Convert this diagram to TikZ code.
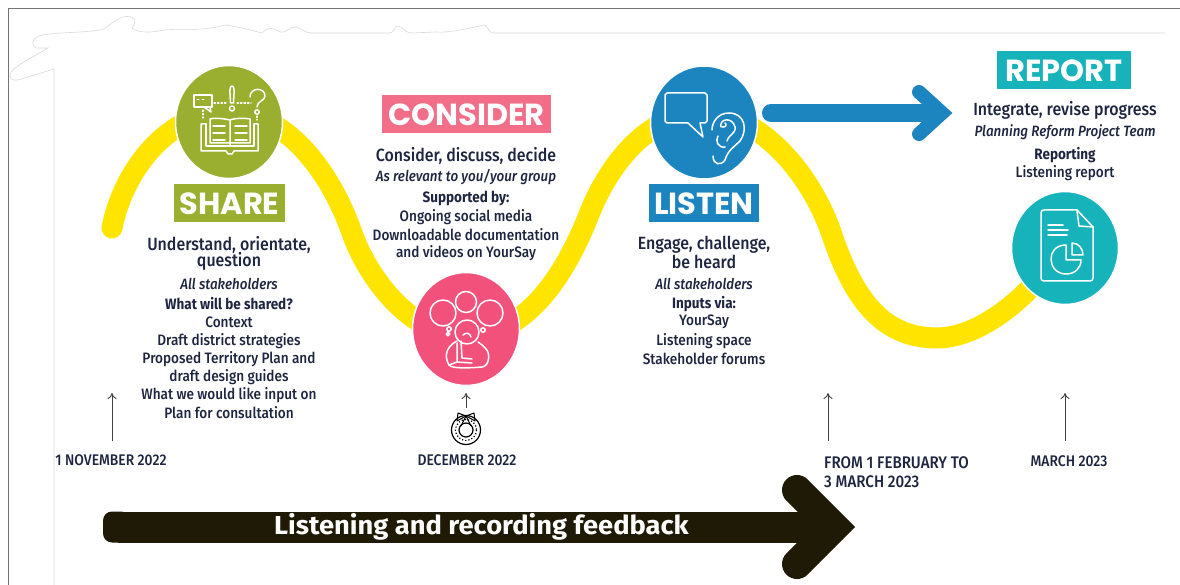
\documentclass[tikz,border=0pt]{standalone}
\usepackage{fontspec}
\setmainfont{Fira Sans}[FakeStretch=0.9,UprightFont=* Medium,ItalicFont=* Medium Italic,BoldFont=* Bold]
\newfontfamily\headfont{Poppins}
\newfontfamily\widefont{Fira Sans}[FakeStretch=1.05]
\usetikzlibrary{arrows.meta,shapes.geometric}
\definecolor{ink}{HTML}{1E2540}
\definecolor{yel}{HTML}{FFE400}
\definecolor{grn}{HTML}{9AAE30}
\definecolor{pnk}{HTML}{F2517C}
\definecolor{pnkb}{HTML}{F26D88}
\definecolor{blu}{HTML}{1C84BF}
\definecolor{tea}{HTML}{17B3BB}
\definecolor{blk}{HTML}{1F1A05}
\tikzset{
  x=1pt,y=-1pt,
  stage/.style={draw=white,line width=1.5pt,ellipse,minimum width=107pt,minimum height=113pt,inner sep=0pt},
  badge/.style={inner sep=0pt,minimum height=38pt,text=white,font=\headfont\bfseries\fontsize{30.5}{31}\selectfont},
  lead/.style={text=ink,inner sep=0pt,yshift=-0.7pt,font=\fontsize{17.7}{18}\selectfont},
  ital/.style={text=ink,inner sep=0pt,yshift=-0.7pt,font=\itshape\fontsize{14.9}{16}\selectfont},
  body/.style={text=ink,inner sep=0pt,yshift=-0.7pt,font=\fontsize{15.1}{16}\selectfont},
  hd/.style={text=ink,inner sep=0pt,yshift=-0.7pt,font=\bfseries\fontsize{15}{16}\selectfont},
  dat/.style={text=ink,inner sep=0pt,font=\fontsize{15.4}{16}\selectfont},
  datb/.style={text=ink,inner sep=0pt,font=\fontsize{16.8}{17}\selectfont},
  tick/.style={draw=black!75,line width=0.9pt,-{To[length=6pt,width=9pt]}},
  ico/.style={draw=white,line width=1.5pt,line cap=round,line join=round},
  edge/.style={draw=black!15,line width=0.6pt}
}
\begin{document}
\begin{tikzpicture}
\useasboundingbox (0,0) rectangle (1180,585);
\fill[white] (0,0) rectangle (1180,585);
% frame and torn edge
\draw[draw=black!55,line width=1.6pt] (1180,8.5) -- (8.5,8.5) -- (8.5,585);
\draw[edge] (1165,33) -- (493,33) .. controls (488,33) and (488,25) .. (484,25) .. controls (470,28) and (450,33) .. (436,32) -- (411,33)
 .. controls (405,33) and (403,26) .. (398,26) .. controls (394,26) and (394,33) .. (390,33) -- (310,33)
 .. controls (305,33) and (300,27) .. (295,27) .. controls (288,27) and (288,33) .. (280,32) .. controls (272,27) and (268,27) .. (262,33)
 .. controls (250,30) and (240,27) .. (225,25) .. controls (200,32) and (180,28) .. (165,30) .. controls (150,33) and (138,33) .. (132,28)
 .. controls (140,18) and (130,14) .. (120,18) .. controls (112,22) and (108,28) .. (100,30) .. controls (80,33) and (60,32) .. (42,35)
 .. controls (32,38) and (30,44) .. (36,48) -- (48,48) .. controls (35,56) and (18,64) .. (11,72) .. controls (8,78) and (12,81) .. (18,80) -- (54,69) -- (54,585);
% yellow ribbon
\draw[yel,line width=21pt,line cap=round] (112,228) .. controls (122,175) and (165,112) .. (229,112)
  .. controls (285,112) and (330,170) .. (352,233) .. controls (367,276) and (410,336) .. (466,336)
  .. controls (525,336) and (564,277) .. (588,217) .. controls (608,165) and (648,113) .. (704,113)
  .. controls (760,113) and (812,175) .. (832,235) .. controls (855,303) and (885,338) .. (937,338)
  .. controls (975,338) and (1020,305) .. (1050,265);
% stage circles
\node[stage,fill=grn] (cshare) at (229,122) {};
\node[stage,fill=pnk] (cconsider) at (466,329) {};
\node[stage,fill=blu] (clisten) at (704,122.5) {};
\node[stage,fill=tea] (creport) at (1065,248) {};
% share icon
\draw[ico] (194,95) rectangle (212,107);
\draw[ico] (204,107) -- (211,112) -- (210,107);
\draw[ico,line width=1pt] (197,100) -- (199,100) (202,100) -- (204,100);
\draw[ico] (232,86) .. controls (229,86) and (230,92) .. (230.5,103) -- (233.5,103) .. controls (234,92) and (235,86) .. (232,86);
\draw[ico] (232,108.5) circle (2.5);
\draw[ico] (250,97) .. controls (250,87) and (265,87) .. (265,96) .. controls (265,101) and (257,101) .. (257,107);
\draw[ico] (257,112) circle (2.2);
\draw[ico,dotted,line width=1.2pt] (214,103) -- (228,103) (237,103) -- (251,103) (203,110) -- (203,118) (257,116) -- (257,120);
\draw[ico] (206,124) -- (206,146) -- (230,146) -- (254,146) -- (254,124);
\draw[ico] (230,146) -- (230,120) .. controls (222,118) and (212,118) .. (210,119) -- (210,143) -- (230,143) -- (250,143) -- (250,119) .. controls (245,118) and (235,118) .. (230,120);
\draw[ico] (206,124) -- (201,124) -- (201,151) -- (226,151) -- (228,154) -- (232,154) -- (234,151) -- (258,151) -- (258,124) -- (254,124);
\draw[ico] (213,126) -- (225,126) (213,133) -- (225,133) (213,140) -- (225,140) (235,126) -- (247,126) (235,133) -- (247,133) (235,140) -- (247,140);
% consider icon
\draw[ico] (443,313) circle (13);
\draw[ico] (466,302) circle (10.5);
\draw[ico] (490,313) circle (13);
\draw[ico] (467,332) circle (12);
\draw[ico] (449,329) circle (2.2) (448,334) circle (1.8) (483,330) circle (2.2);
\draw[ico] (463,335) .. controls (466,332) and (470,333) .. (471,337);
\draw[ico] (457,341) .. controls (444,348) and (445,358) .. (449,365) .. controls (452,369) and (470,368) .. (482,367) .. controls (490,366) and (490,352) .. (486,349) .. controls (484,346) and (481,344) .. (478,342);
\draw[ico] (461,341) -- (462,358) -- (472,359) (457,343) -- (457,362) -- (449,365) (456,362) -- (472,363);
% listen icon
\draw[ico] (667,93) -- (705,93) -- (707,95) -- (707,121) -- (705,123) -- (700,123) -- (703,137) -- (688,123) -- (667,123) -- (665,121) -- (665,95) -- cycle;
\draw[ico] (713,156) .. controls (713,165) and (721,166) .. (725,160) .. controls (728,150) and (734,147) .. (740,141) .. controls (748,130) and (745,113) .. (729,113) .. controls (718,113) and (712,122) .. (712,130);
\draw[ico] (721,127) .. controls (719,118) and (733,117) .. (735,127) .. controls (736,134) and (729,134) .. (727,141);
\draw[ico] (722,127) .. controls (726,128) and (727,124) .. (725,123) (718,136) .. controls (715,141) and (718,148) .. (725,147);
% report icon
\draw[ico] (1077,210) -- (1044,210) .. controls (1042,210) and (1041,211) .. (1041,213) -- (1041,278) .. controls (1041,280) and (1042,281) .. (1044,281) -- (1090,281) .. controls (1092,281) and (1093,280) .. (1093,278) -- (1093,227) -- cycle;
\draw[ico] (1077,211) -- (1079,226) -- (1093,227);
\draw[ico] (1048,225) -- (1063,225) (1048,230) -- (1068,230) (1048,235) -- (1067,235);
\draw[ico] (1066,245) .. controls (1045,245) and (1047,274) .. (1066,274) .. controls (1075,274) and (1081,268) .. (1081,260) -- (1066,260) -- cycle;
\draw[ico] (1072,243) .. controls (1079,243) and (1083,249) .. (1083,255) -- (1072,255) -- cycle;
% badges
\node[badge,fill=grn,minimum width=111pt] (bshare) at (229.5,203.5) {SHARE};
\node[badge,fill=pnkb,minimum width=169pt] (bconsider) at (466.5,114.5) {CONSIDER};
\node[badge,fill=blu,minimum width=110pt] (blisten) at (704,203.5) {LISTEN};
\node[badge,fill=tea,minimum width=134pt] (breport) at (1064,70.5) {REPORT};
% share text
\node[lead] (s1) at (229,244) {Understand, orientate,};
\node[lead] (s2) at (229,261) {question};
\node[ital] (s3) at (229,283) {All stakeholders};
\node[hd] (s4) at (229,303) {What will be shared?};
\node[body] (s5) at (229,321.5) {Context};
\node[body] (s6) at (229,340) {Draft district strategies};
\node[body] (s7) at (229,358) {Proposed Territory Plan and};
\node[body] (s8) at (229,376) {draft design guides};
\node[body] (s9) at (229,394) {What we would like input on};
\node[body] (s10) at (229,412) {Plan for consultation};
% consider text
\node[lead] (c1) at (466,155) {Consider, discuss, decide};
\node[ital] (c2) at (466,176) {As relevant to you/your group};
\node[hd] (c3) at (466,198) {Supported by:};
\node[body] (c4) at (466,216) {Ongoing social media};
\node[body] (c5) at (466,234) {Downloadable documentation};
\node[body] (c6) at (466,252) {and videos on YourSay};
% listen text
\node[lead] (l1) at (704,244) {Engage, challenge,};
\node[lead] (l2) at (704,261) {be heard};
\node[ital] (l3) at (704,283) {All stakeholders};
\node[hd] (l4) at (704,303) {Inputs via:};
\node[body] (l5) at (704,321.5) {YourSay};
\node[body] (l6) at (704,340) {Listening space};
\node[body] (l7) at (704,358) {Stakeholder forums};
% report text
\node[lead] (r1) at (1065,110) {Integrate, revise progress};
\node[ital] (r2) at (1065,132) {Planning Reform Project Team};
\node[hd] (r3) at (1065,154) {Reporting};
\node[body] (r4) at (1065,172) {Listening report};
% dates
\node[dat] (d1) at (111,460) {1 NOVEMBER 2022};
\node[dat] (d2) at (467,460) {DECEMBER 2022};
\node[datb,anchor=west] (d3) at (824,463) {FROM 1 FEBRUARY TO};
\node[datb,anchor=west] (d4) at (824,482) {3 MARCH 2023};
\node[dat] (d5) at (1069,461) {MARCH 2023};
% tick arrows
\coordinate (t1) at (112,441); \coordinate (h1) at (112,393);
\coordinate (t2) at (466,408); \coordinate (h2) at (466,393);
\coordinate (t3) at (828,441); \coordinate (h3) at (828,393);
\coordinate (t4) at (1065,441); \coordinate (h4) at (1065,393);
\draw[tick] (t1) -- (h1);
\draw[tick] (t2) -- (h2);
\draw[tick] (t3) -- (h3);
\draw[tick] (t4) -- (h4);
% wreath
\draw[black,line width=1.2pt] (466,430) circle (14.5) (466,430) circle (7);
\draw[black,line width=1.2pt,dotted] (466,430) circle (10.5);
\draw[black,line width=1pt,line join=round] (466,416) -- (458,413) -- (457,421) -- cycle (466,416) -- (474,413) -- (475,421) -- cycle;
\draw[black,line width=1pt] (466,416) -- (461,426) (466,416) -- (471,426);
% blue arrow
\coordinate (bs) at (771,113); \coordinate (bt) at (942,113);
\draw[blu,line width=18pt,line cap=round] (bs) -- (930,113);
\draw[blu,line width=14pt,line cap=round,line join=miter] (919,92) -- (bt) -- (919,134);
% black arrow
\coordinate (ks) at (112,527); \coordinate (kt) at (834,527);
\draw[blk,line width=31pt] (118,527) -- (815,527);
\fill[blk,rounded corners=9pt] (103,511.5) rectangle (130,542.5);
\draw[blk,line width=30pt,line cap=round,line join=miter] (797,490) -- (kt) -- (797,564);
\node[text=white,inner sep=0pt,font=\widefont\bfseries\fontsize{26}{26}\selectfont] (kl) at (481.5,526.5) {Listening and recording feedback};
\end{tikzpicture}
\end{document}
